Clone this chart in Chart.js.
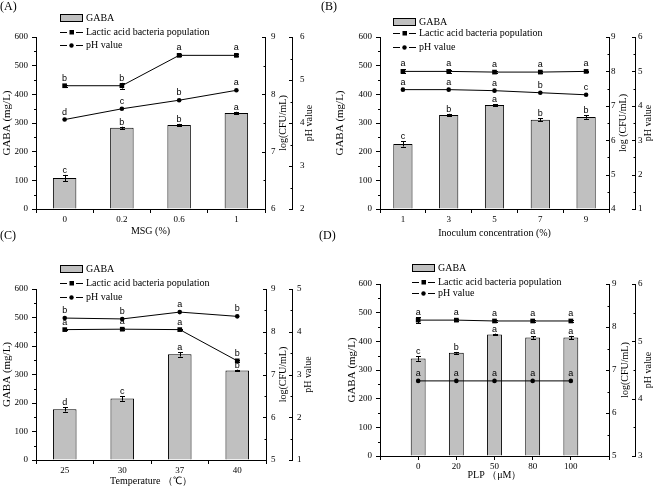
<!DOCTYPE html>
<html>
<head>
<meta charset="utf-8">
<script src="https://cdn.jsdelivr.net/npm/chart.js@4.4.1/dist/chart.umd.min.js"></script>
<style>
  body { margin: 0; background: #fff; }
  #wrap { position: relative; width: 655px; height: 486px; overflow: hidden; }
  canvas { position: absolute; }
  .tag { position: absolute; font: 12px "Liberation Serif", "Times New Roman", serif; color: #000; line-height: 12px; }
</style>
</head>
<body>
<div id="wrap">
  <canvas id="chartA" width="327" height="243" style="left:0;top:0"></canvas>
  <canvas id="chartB" width="328" height="243" style="left:327px;top:0"></canvas>
  <canvas id="chartC" width="327" height="243" style="left:0;top:243px"></canvas>
  <canvas id="chartD" width="328" height="243" style="left:327px;top:243px"></canvas>
  <div class="tag" style="left:0;top:0">(A)</div>
  <div class="tag" style="left:321px;top:0">(B)</div>
  <div class="tag" style="left:0;top:229px">(C)</div>
  <div class="tag" style="left:319px;top:229px">(D)</div>
</div>
<script>
// (A) MSG
const msgLabels = ["0", "0.2", "0.6", "1"];
const msgGaba = [108, 283, 293, 335];
const msgGabaErr = [11, 4, 4, 4];
const msgLab = [8.15, 8.15, 8.68, 8.68];
const msgLabErr = [0.02, 0.05, 0.02, 0.02];
const msgPh = [4.08, 4.33, 4.53, 4.76];
const msgGabaSig = ["c", "b", "b", "a"];
const msgLabSig = ["b", "b", "a", "a"];
const msgPhSig = ["d", "c", "b", "a"];

// (B) inoculum
const inoLabels = ["1", "3", "5", "7", "9"];
const inoGaba = [227, 328, 363, 311, 321];
const inoGabaErr = [9, 4, 3, 5, 6];
const inoLab = [8.0, 8.0, 7.98, 7.98, 8.0];
const inoLabErr = [0.06, 0.04, 0.02, 0.02, 0.02];
const inoPh = [4.47, 4.47, 4.44, 4.38, 4.32];
const inoGabaSig = ["c", "b", "a", "b", "b"];
const inoLabSig = ["a", "a", "a", "a", "a"];
const inoPhSig = ["a", "a", "a", "b", "c"];

// (C) temperature
const tempLabels = ["25", "30", "37", "40"];
const tempGaba = [178, 216, 371, 314];
const tempGabaErr = [8, 8, 8, 3];
const tempLab = [8.05, 8.06, 8.05, 7.32];
const tempLabErr = [0.02, 0.02, 0.02, 0.03];
const tempPh = [4.32, 4.30, 4.46, 4.36];
const tempGabaSig = ["d", "c", "a", "b"];
const tempLabSig = ["a", "a", "a", "b"];
const tempPhSig = ["b", "b", "a", "b"];

// (D) PLP
const plpLabels = ["0", "20", "50", "80", "100"];
const plpGaba = [340, 360, 424, 413, 413];
const plpGabaErr = [8, 3, 3, 4, 6];
const plpLab = [8.16, 8.16, 8.14, 8.14, 8.14];
const plpLabErr = [0.07, 0.02, 0.02, 0.02, 0.02];
const plpPh = [4.31, 4.31, 4.31, 4.31, 4.31];
const plpGabaSig = ["c", "b", "a", "a", "a"];
const plpLabSig = ["a", "a", "a", "a", "a"];
const plpPhSig = ["a", "a", "a", "a", "a"];

const SERIF = "'Liberation Serif', 'Times New Roman', serif";
const SANS = "'Liberation Sans', Arial, sans-serif";
Chart.defaults.font.family = SERIF;
Chart.defaults.color = "#000";
Chart.defaults.animation = false;

const panels = [
  {
    id: "chartA", labels: msgLabels, gaba: msgGaba, gabaErr: msgGabaErr, lab: msgLab, labErr: msgLabErr, ph: msgPh,
    sig: [msgGabaSig, msgLabSig, msgPhSig], xTitle: "MSG (%)", y1Title: "log(CFU/mL)",
    y1: [6, 9], y2: [2, 6], barPct: 0.41, pad: false,
    leftW: 36, top: 37, xH: 34, y1W: 27, y2W: 35, y1Pad: 6, y2Pad: 8,
    legend: { x: 60, rows: [18, 32, 45] }, xTitleY: 231, yTitleX: 7, y1Off: 18, y2Off: 17
  },
  {
    id: "chartB", labels: inoLabels, gaba: inoGaba, gabaErr: inoGabaErr, lab: inoLab, labErr: inoLabErr, ph: inoPh,
    sig: [inoGabaSig, inoLabSig, inoPhSig], xTitle: "Inoculum concentration (%)", y1Title: "log (CFU/mL)",
    y1: [4, 9], y2: [1, 6], barPct: 0.42, pad: false,
    leftW: 53, top: 37, xH: 34, y1W: 26, y2W: 20, y1Pad: 2, y2Pad: 3,
    legend: { x: 66, rows: [22, 33, 47] }, xTitleY: 233, yTitleX: 13, y1Off: 14, y2Off: 13
  },
  {
    id: "chartC", labels: tempLabels, gaba: tempGaba, gabaErr: tempGabaErr, lab: tempLab, labErr: tempLabErr, ph: tempPh,
    sig: [tempGabaSig, tempLabSig, tempPhSig], xTitle: "Temperature （℃）", y1Title: "log(CFU/mL)",
    y1: [5, 9], y2: [1, 5], barPct: 0.41, pad: false,
    leftW: 36, top: 46, xH: 26, y1W: 26, y2W: 35, y1Pad: 5, y2Pad: 5,
    legend: { x: 60, rows: [26, 40, 54] }, xTitleY: 238, yTitleX: 7, y1Off: 17, y2Off: 16
  },
  {
    id: "chartD", labels: plpLabels, gaba: plpGaba, gabaErr: plpGabaErr, lab: plpLab, labErr: plpLabErr, ph: plpPh,
    sig: [plpGabaSig, plpLabSig, plpPhSig], xTitle: "PLP （μM）", y1Title: "log(CFU/mL)",
    y1: [5, 9], y2: [3, 6], barPct: 0.39, pad: true,
    leftW: 53, top: 41, xH: 30, y1W: 26, y2W: 20, y1Pad: 3, y2Pad: 3,
    legend: { x: 85, rows: [25, 39, 50] }, xTitleY: 232, yTitleX: 25, y1Off: 16, y2Off: 13
  }
];

function padded(arr, on) {
  return on ? [null, ...arr, null] : arr;
}

function drawLegend(ctx, lg) {
  const x = lg.x;
  const r = lg.rows;
  ctx.save();
  ctx.fillStyle = "#c0c0c0";
  ctx.fillRect(x, r[0] - 4, 23, 8);
  ctx.strokeStyle = "#000";
  ctx.lineWidth = 1;
  ctx.strokeRect(x + 0.5, r[0] - 3.5, 22, 7);
  for (const y of [r[1], r[2]]) {
    ctx.beginPath();
    ctx.moveTo(x, Math.round(y) + 0.5);
    ctx.lineTo(x + 7, Math.round(y) + 0.5);
    ctx.moveTo(x + 16, Math.round(y) + 0.5);
    ctx.lineTo(x + 23, Math.round(y) + 0.5);
    ctx.stroke();
  }
  ctx.fillStyle = "#000";
  ctx.fillRect(x + 9.5, r[1] - 2, 4.5, 4.5);
  ctx.beginPath();
  ctx.arc(x + 11.5, r[2] + 0.5, 2.2, 0, Math.PI * 2);
  ctx.fill();
  ctx.font = "10px " + SERIF;
  ctx.textBaseline = "middle";
  ctx.textAlign = "left";
  ctx.fillText("GABA", x + 26, r[0]);
  ctx.fillText("Lactic acid bacteria population", x + 26, r[1]);
  ctx.fillText("pH value", x + 26, r[2]);
  ctx.restore();
}

function makeExtras(p) {
  return {
    id: "extras" + p.id,
    afterDraw(chart) {
      const ctx = chart.ctx;
      const area = chart.chartArea;
      const sy = chart.scales.y, sy1 = chart.scales.y1, sy2 = chart.scales.y2;
      ctx.save();
      ctx.strokeStyle = "#000";
      ctx.lineWidth = 1;

      // major and minor ticks (right axes point inward)
      const ticksOn = (scale, x0, dir, major) => {
        const t = scale.ticks;
        for (let i = 0; i < t.length; i++) {
          if (major) {
            const py = Math.round(scale.getPixelForValue(t[i].value)) + 0.5;
            ctx.beginPath(); ctx.moveTo(x0, py); ctx.lineTo(x0 + dir * 3.5, py); ctx.stroke();
          }
          if (i < t.length - 1) {
            const v = (t[i].value + t[i + 1].value) / 2;
            const py = Math.round(scale.getPixelForValue(v)) + 0.5;
            ctx.beginPath(); ctx.moveTo(x0, py); ctx.lineTo(x0 + dir * 2, py); ctx.stroke();
          }
        }
      };
      ticksOn(sy, area.left, -1, false);
      ticksOn(sy1, sy1.left + 0.5, -1, true);
      ticksOn(sy2, sy2.left + 0.5, -1, true);

      // error bars
      const errs = [[0, p.gabaErr, sy], [1, p.labErr, sy1]];
      errs.forEach(([di, err, scale]) => {
        const meta = chart.getDatasetMeta(di === 0 ? 2 : 0);
        const vals = di === 0 ? p.gaba : p.lab;
        vals.forEach((v, i) => {
          const el = meta.data[p.pad ? i + 1 : i];
          const x = Math.round(el.x) + 0.5;
          const y0 = scale.getPixelForValue(v - err[i]);
          const y1 = scale.getPixelForValue(v + err[i]);
          ctx.beginPath();
          ctx.moveTo(x, y0); ctx.lineTo(x, y1);
          ctx.moveTo(x - 2.5, Math.round(y1) + 0.5); ctx.lineTo(x + 2.5, Math.round(y1) + 0.5);
          ctx.moveTo(x - 2.5, Math.round(y0) + 0.5); ctx.lineTo(x + 2.5, Math.round(y0) + 0.5);
          ctx.stroke();
        });
      });

      // significance letters
      ctx.fillStyle = "#000";
      ctx.font = "9px " + SANS;
      ctx.textAlign = "center";
      ctx.textBaseline = "alphabetic";
      const barMeta = chart.getDatasetMeta(2);
      p.gaba.forEach((v, i) => {
        const el = barMeta.data[p.pad ? i + 1 : i];
        const top = sy.getPixelForValue(v + p.gabaErr[i]);
        ctx.fillText(p.sig[0][i], el.x, top - 2);
      });
      [[0, 1], [1, 2]].forEach(([di, si]) => {
        const meta = chart.getDatasetMeta(di);
        p.labels.forEach((_, i) => {
          const el = meta.data[p.pad ? i + 1 : i];
          ctx.fillText(p.sig[si][i], el.x, el.y - 5);
        });
      });

      // axis titles
      const cy = (area.top + area.bottom) / 2;
      const vtext = (txt, x, size) => {
        ctx.save();
        ctx.translate(x, cy);
        ctx.rotate(-Math.PI / 2);
        ctx.font = size + "px " + SERIF;
        ctx.textAlign = "center";
        ctx.textBaseline = "middle";
        ctx.fillText(txt, 0, 0);
        ctx.restore();
      };
      vtext("GABA (mg/L)", p.yTitleX, 11);
      vtext(p.y1Title, sy1.left + p.y1Off, 10);
      vtext("pH value", sy2.left + p.y2Off, 10);
      ctx.font = "10px " + SERIF;
      ctx.textAlign = "center";
      ctx.textBaseline = "middle";
      ctx.fillText(p.xTitle, (area.left + area.right) / 2, p.xTitleY);

      drawLegend(ctx, p.legend);
      ctx.restore();
    }
  };
}

function yAxis(pos, min, max, step, width, weight, pad) {
  const right = pos === "right";
  return {
    position: pos,
    weight: weight,
    min: min,
    max: max,
    ticks: { stepSize: step, font: { size: 9 }, color: "#000", padding: right ? pad : 4 },
    grid: { display: true, drawOnChartArea: false, drawTicks: !right, tickLength: 4, tickColor: "#000", tickWidth: 1 },
    border: { display: true, color: "#000", width: 1 },
    title: { display: false },
    afterFit: (s) => { s.width = width; }
  };
}

panels.forEach((p) => {
  const labels = p.pad ? ["", ...p.labels, ""] : p.labels;
  new Chart(document.getElementById(p.id), {
    type: "bar",
    data: {
      labels: labels,
      datasets: [
        {
          type: "line", label: "Lactic acid bacteria population", data: padded(p.lab, p.pad), yAxisID: "y1",
          borderColor: "#000", borderWidth: 1, pointStyle: "rect", pointRadius: 3.3,
          pointBackgroundColor: "#000", pointBorderColor: "#000", pointBorderWidth: 0, tension: 0, order: 0
        },
        {
          type: "line", label: "pH value", data: padded(p.ph, p.pad), yAxisID: "y2",
          borderColor: "#000", borderWidth: 1, pointStyle: "circle", pointRadius: 2.3,
          pointBackgroundColor: "#000", pointBorderColor: "#000", pointBorderWidth: 0, tension: 0, order: 1
        },
        {
          type: "bar", label: "GABA", data: padded(p.gaba, p.pad), yAxisID: "y",
          backgroundColor: "#c0c0c0", borderColor: "#000", borderWidth: 1,
          barPercentage: p.barPct, categoryPercentage: 1, order: 2
        }
      ]
    },
    options: {
      responsive: false,
      animation: false,
      layout: { padding: { top: p.top, left: 0, right: 0, bottom: 0 } },
      plugins: { legend: { display: false }, tooltip: { enabled: false } },
      scales: {
        x: {
          offset: !p.pad,
          ticks: { font: { size: 9 }, color: "#000", padding: 1, maxRotation: 0, autoSkip: false },
          grid: { display: true, drawOnChartArea: false, drawTicks: true, tickLength: 4, tickColor: "#000", offset: !p.pad },
          border: { display: true, color: "#000", width: 1 },
          afterFit: (s) => { s.height = p.xH; }
        },
        y: yAxis("left", 0, 600, 100, p.leftW, 0, 4),
        y1: yAxis("right", p.y1[0], p.y1[1], 1, p.y1W, 0, p.y1Pad),
        y2: yAxis("right", p.y2[0], p.y2[1], 1, p.y2W, 1, p.y2Pad)
      }
    },
    plugins: [makeExtras(p)]
  });
});
</script>
</body>
</html>
